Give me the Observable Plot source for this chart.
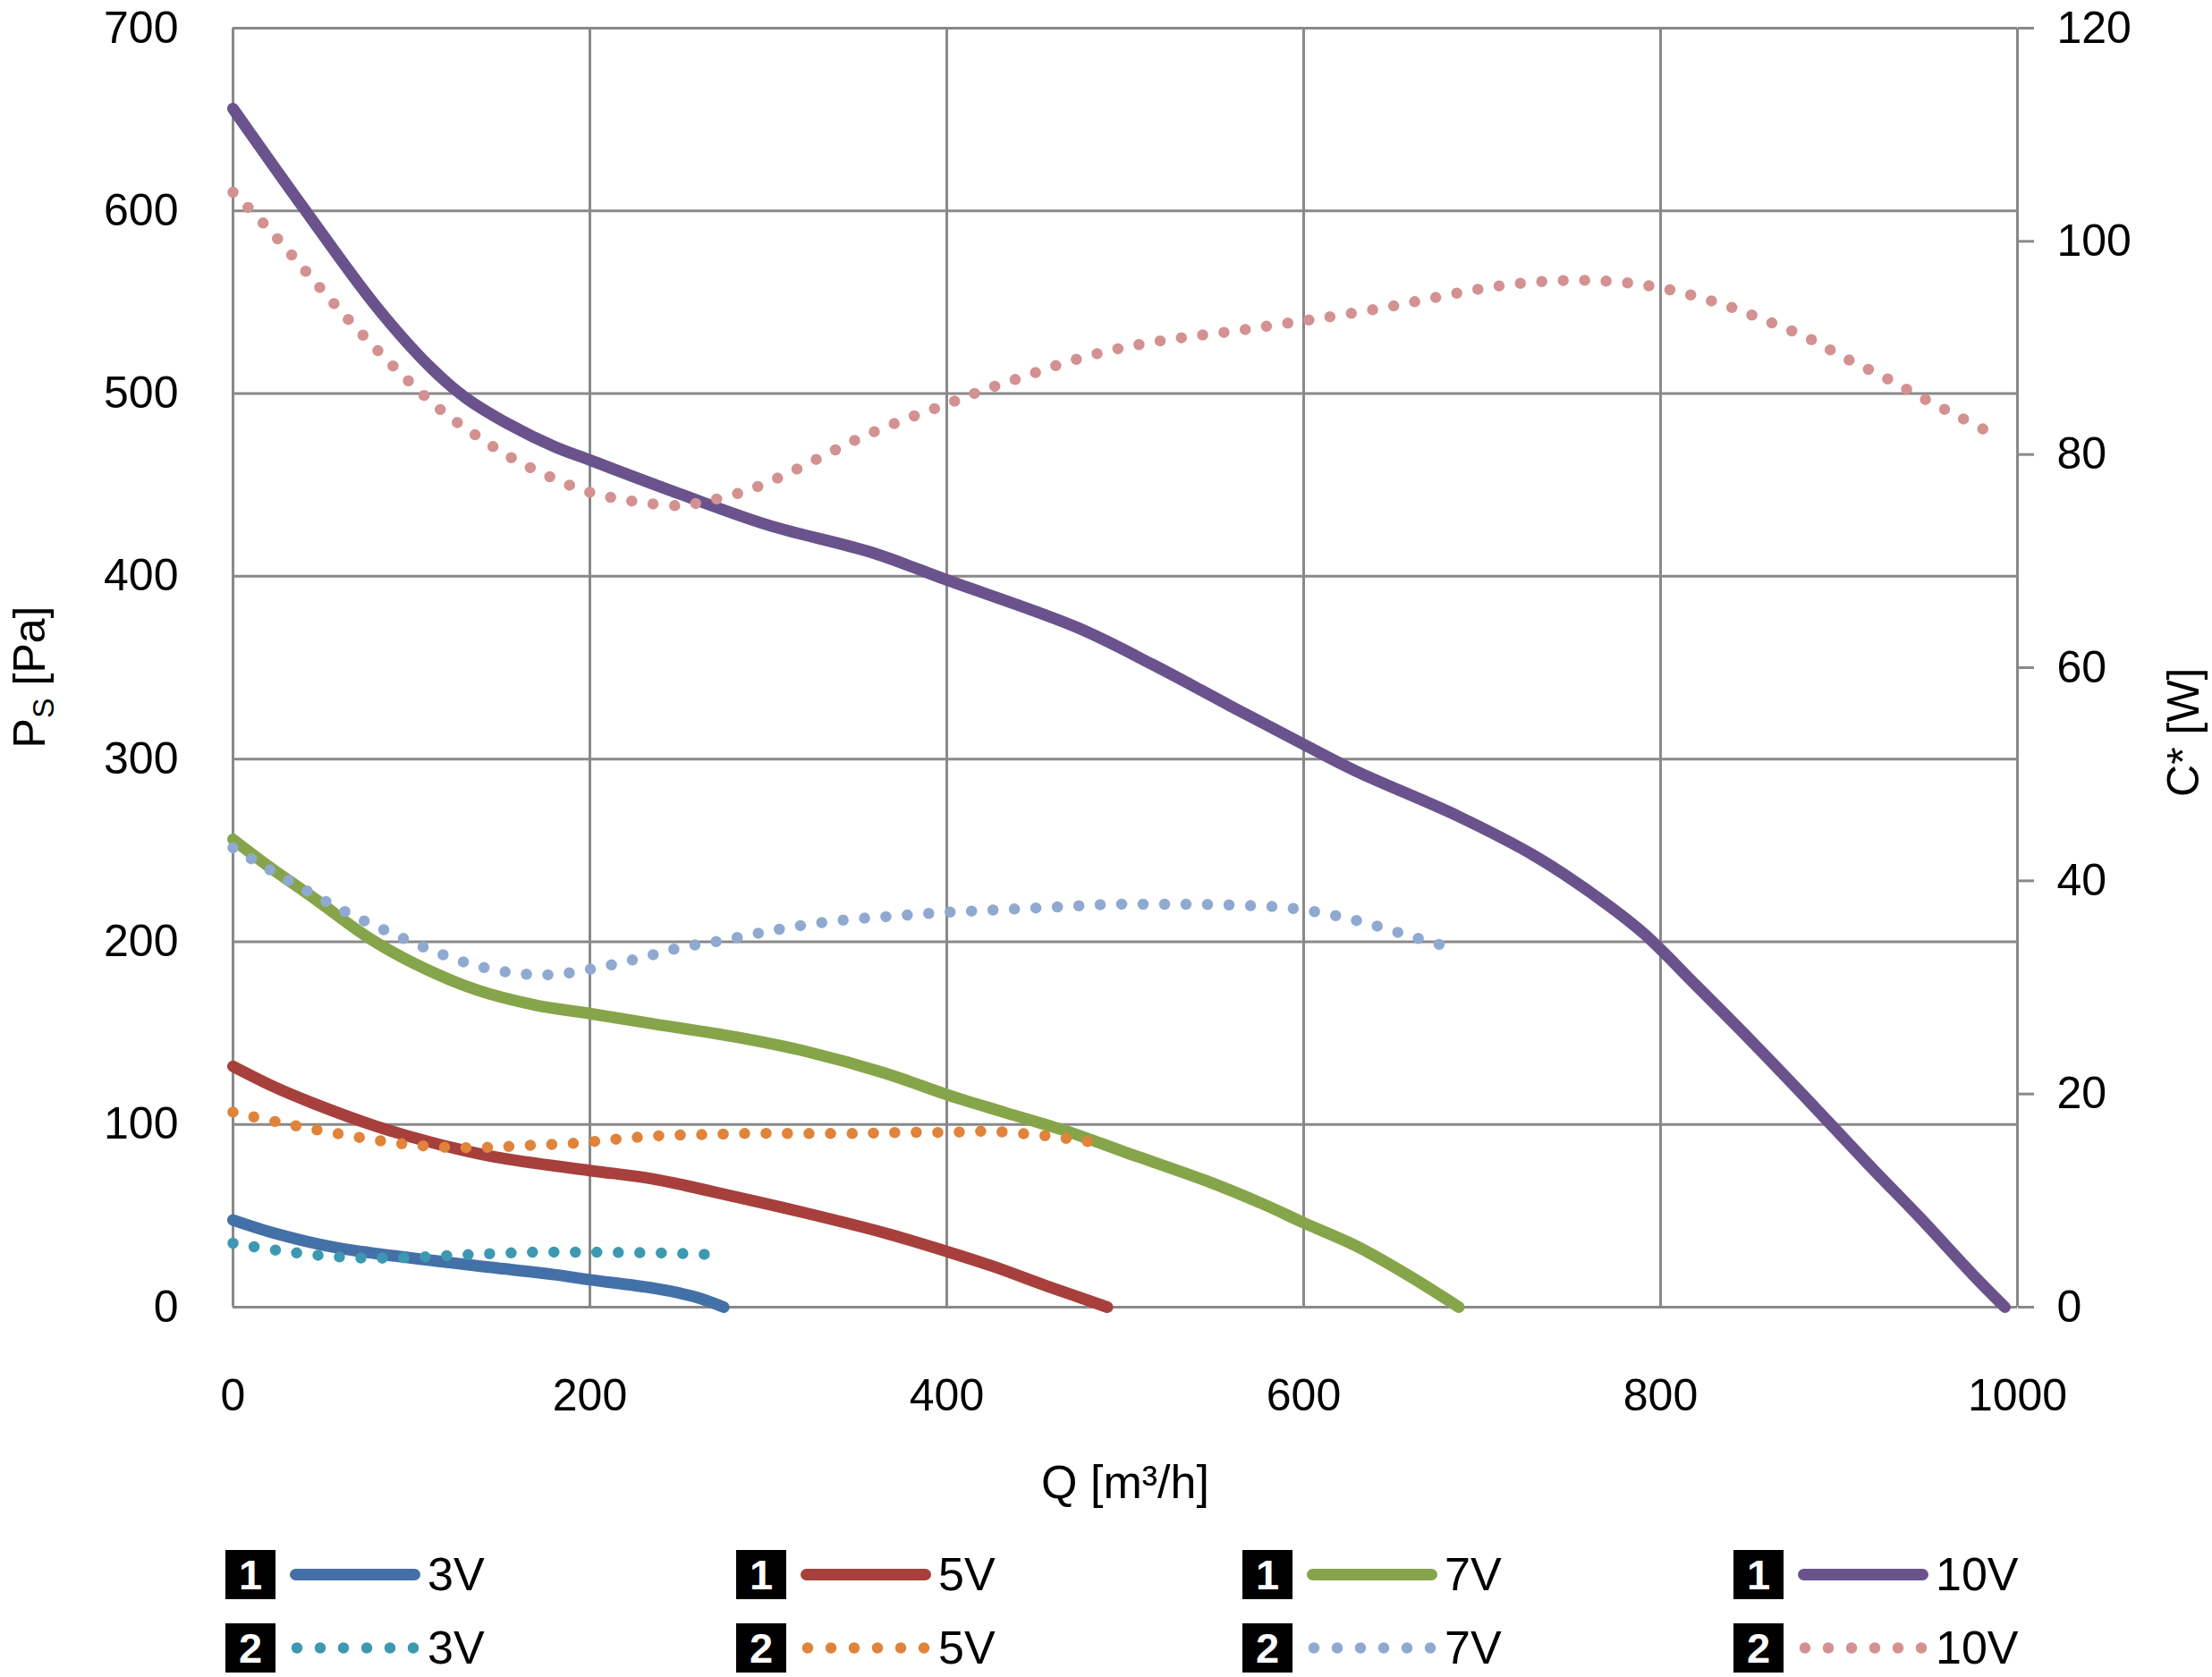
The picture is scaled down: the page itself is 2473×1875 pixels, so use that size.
<!DOCTYPE html>
<html>
<head>
<meta charset="utf-8">
<script src="https://cdn.jsdelivr.net/npm/d3@7"></script>
<script src="https://cdn.jsdelivr.net/npm/@observablehq/plot@0.6"></script>
<style>
  body { margin: 0; background: #fff; font-family: "Liberation Sans", Arial, sans-serif; }
  #wrap { position: relative; width: 2473px; height: 1875px; overflow: hidden; background: #fff; }
  #chart { position: absolute; left: 0; top: 0; }
  #legend { position: absolute; left: 0; top: 1700px; width: 2473px; height: 175px; }
  .box { position: absolute; width: 56px; height: 55px; background: #000; color: #fff;
         font-weight: bold; font-size: 47px; line-height: 55px; text-align: center; }
  .sw { position: absolute; }
  .lab { position: absolute; font-size: 52px; line-height: 55px; color: #000; white-space: nowrap; }
</style>
</head>
<body>
<div id="wrap">
  <div id="chart"></div>
  <div id="legend"></div>
</div>
<script>
// ---------------- data ----------------
const xTicks = [0, 200, 400, 600, 800, 1000];
const psTicks = [0, 100, 200, 300, 400, 500, 600, 700];
const cTicks = [0, 20, 40, 60, 80, 100, 120];

// Curve 1: static pressure Ps [Pa]
const q3V_ps = [0, 25, 57, 91, 147, 180, 200, 236, 259, 275];
const ps3V   = [47.7, 40, 32.7, 28, 21.5, 17.8, 15, 10.3, 5.6, 0];

const q5V_ps = [0, 23, 46, 80, 113, 147, 200, 236, 281, 321, 366, 400, 426, 456, 490];
const ps5V   = [131.8, 120.6, 111.2, 99.1, 89.7, 82.2, 74.8, 70.1, 60.5, 51.5, 40.4, 30.5, 22.3, 11.6, 0];

const q7V_ps = [0, 19, 46, 75, 102, 136, 169, 200, 236, 281, 321, 366, 400, 433, 467, 500, 545, 578, 600, 629, 658, 687];
const ps7V   = [256, 242, 223.4, 202.8, 187.9, 173.8, 165.4, 160.7, 155, 148, 140, 127.9, 116.3, 106.4, 96.4, 84.8, 69.3, 56.1, 46.2, 33.7, 17.8, 0];

const q10V_ps = [0, 40, 80, 110, 130, 155, 180, 200, 251, 300, 358, 400, 473, 516, 559, 600, 629, 687, 730, 760, 790, 820, 850, 880, 917, 946, 975, 993];
const ps10V   = [656, 601, 548, 515, 498, 483, 471, 463.6, 444.9, 428, 413, 398, 372, 351.4, 329, 308, 293.5, 268.5, 246.7, 227.5, 205, 176, 146.5, 116, 77.6, 48.3, 17.8, 0];

// Curve 2: power C* [W]
const q3V_c = [0, 24, 48, 73, 97, 121, 146, 170, 194, 218, 243, 267];
const c3V   = [6.0, 5.35, 4.87, 4.61, 4.65, 4.84, 5.03, 5.16, 5.16, 5.13, 5.07, 4.94];

const q5V_c = [0, 24, 48, 72, 96, 120, 144, 168, 193, 217, 241, 266, 290, 314, 351, 375, 400, 424, 448, 460, 472, 485];
const c5V   = [18.3, 17.4, 16.6, 15.9, 15.3, 15.0, 15.0, 15.2, 15.4, 15.8, 16.1, 16.2, 16.3, 16.3, 16.3, 16.4, 16.4, 16.5, 16.2, 16.0, 15.7, 15.4];

const q7V_c = [0, 21, 42, 64, 86, 108, 131, 155, 179, 203, 227, 250, 274, 298, 322, 347, 371, 395, 419, 443, 468, 492, 516, 540, 565, 589, 613, 636, 660, 683];
const c7V   = [43.1, 41.0, 39.0, 37.0, 35.3, 33.7, 32.3, 31.4, 31.2, 31.8, 32.7, 33.7, 34.4, 35.2, 35.9, 36.4, 36.7, 37.0, 37.2, 37.4, 37.6, 37.8, 37.8, 37.8, 37.7, 37.5, 36.9, 36.0, 34.8, 33.7];

const q10V_c = [0, 17, 33, 49, 65, 82, 99, 117, 137, 157, 179, 201, 225, 250, 262, 286, 308, 330, 352, 375, 398, 420, 443, 466, 490, 514, 538, 562, 586, 610, 646, 670, 694, 718, 742, 766, 791, 814, 838, 860, 883, 904, 926, 948, 969, 991];
const c10V   = [104.6, 101.7, 98.7, 95.6, 92.6, 89.6, 86.8, 84.1, 81.7, 79.6, 77.8, 76.4, 75.6, 75.2, 75.5, 76.5, 78.0, 79.8, 81.6, 83.2, 84.6, 86.0, 87.3, 88.6, 89.7, 90.5, 91.1, 91.6, 92.2, 92.8, 93.8, 94.6, 95.4, 96.0, 96.3, 96.3, 95.9, 95.1, 93.9, 92.5, 90.9, 89.0, 87.2, 85.2, 83.4, 81.5];

const voltages = ["3V", "5V", "7V", "10V"];
const colors1 = ["#4470a8", "#a7403c", "#86a54a", "#6a538c"];
const colors2 = ["#3d99b2", "#e0833b", "#8fa9d0", "#d39191"];

// ---------------- build ----------------
const PS_MAX = 700, C_MAX = 120;
const cToPs = c => c * PS_MAX / C_MAX;
const zip = (qs, vs) => qs.map((q, i) => ({q, v: vs[i]}));

const curves1 = [zip(q3V_ps, ps3V), zip(q5V_ps, ps5V), zip(q7V_ps, ps7V), zip(q10V_ps, ps10V)];
const curves2 = [zip(q3V_c, c3V), zip(q5V_c, c5V), zip(q7V_c, c7V), zip(q10V_c, c10V)];

const grid = "#898989";
const font = "'Liberation Sans', Arial, sans-serif";
const SOLID_W = 13, DOT_W = 12.5;

const marks = [
  Plot.gridX(xTicks, {stroke: grid, strokeOpacity: 1, strokeWidth: 3}),
  Plot.gridY(psTicks, {stroke: grid, strokeOpacity: 1, strokeWidth: 3}),
  Plot.axisX({ticks: xTicks, anchor: "bottom", tickSize: 0, tickPadding: 80, fontSize: 50, label: null,
              tickFormat: d => String(d)}),
  Plot.axisY({ticks: psTicks, anchor: "left", tickSize: 0, tickPadding: 61, fontSize: 50, label: null,
              tickFormat: d => String(d)}),
  Plot.axisY({ticks: cTicks.map(cToPs), anchor: "right", tickSize: 18, tickPadding: 26,
              stroke: grid, strokeWidth: 3, fill: "#000", fontSize: 50, label: null,
              tickFormat: d => String(Math.round(d * C_MAX / PS_MAX))}),
  Plot.text(["Q [m³/h]"], {frameAnchor: "bottom", dy: 213, fontSize: 52, fill: "#000"}),
  Plot.text(["C* [W]"], {frameAnchor: "right", dx: 186, rotate: -90, fontSize: 50, fill: "#000"})
];
curves1.forEach((data, i) => {
  marks.push(Plot.line(data, {x: "q", y: "v", stroke: colors1[i], strokeWidth: SOLID_W,
    strokeLinecap: "round", strokeLinejoin: "round", curve: "catmull-rom"}));
});
curves2.forEach((data, i) => {
  marks.push(Plot.line(data, {x: "q", y: d => cToPs(d.v), stroke: colors2[i], strokeWidth: DOT_W,
    strokeLinecap: "round", strokeDasharray: "0 24", curve: "catmull-rom"}));
});

const chart = Plot.plot({
  width: 2473, height: 1700,
  marginTop: 31, marginBottom: 239, marginLeft: 260, marginRight: 218,
  x: {domain: [0, 1000]},
  y: {domain: [0, PS_MAX]},
  style: {fontFamily: font, color: "#000", background: "#fff", overflow: "visible"},
  marks
});
document.getElementById("chart").appendChild(chart);

// left axis title with subscript
const t = d3.select(chart).append("text")
  .attr("transform", "translate(32,757) rotate(-90)")
  .attr("text-anchor", "middle")
  .attr("dy", "0.35em")
  .attr("font-size", 50)
  .attr("font-family", font)
  .attr("fill", "#000");
t.append("tspan").text("P");
t.append("tspan").attr("font-size", 34).attr("dy", 10).text("S");
t.append("tspan").attr("dy", -10).text(" [Pa]");

// legend
const legend = d3.select("#legend");
const colLeft = [252, 823, 1389, 1938];
const rowTop = [33, 115];
voltages.forEach((v, i) => {
  [0, 1].forEach(r => {
    const L = colLeft[i], T = rowTop[r];
    legend.append("div").attr("class", "box")
      .style("left", L + "px").style("top", T + "px").text(String(r + 1));
    const sw = legend.append("svg").attr("class", "sw")
      .attr("width", 170).attr("height", 55)
      .style("left", (L + 60) + "px").style("top", T + "px");
    if (r === 0) {
      sw.append("line").attr("x1", 18.5).attr("x2", 151.5).attr("y1", 27.5).attr("y2", 27.5)
        .attr("stroke", colors1[i]).attr("stroke-width", SOLID_W).attr("stroke-linecap", "round");
    } else {
      sw.append("line").attr("x1", 20).attr("x2", 150.5).attr("y1", 27.5).attr("y2", 27.5)
        .attr("stroke", colors2[i]).attr("stroke-width", DOT_W).attr("stroke-linecap", "round")
        .attr("stroke-dasharray", "0 26");
    }
    legend.append("div").attr("class", "lab")
      .style("left", (L + 226) + "px").style("top", T + "px").text(v);
  });
});
</script>
</body>
</html>
